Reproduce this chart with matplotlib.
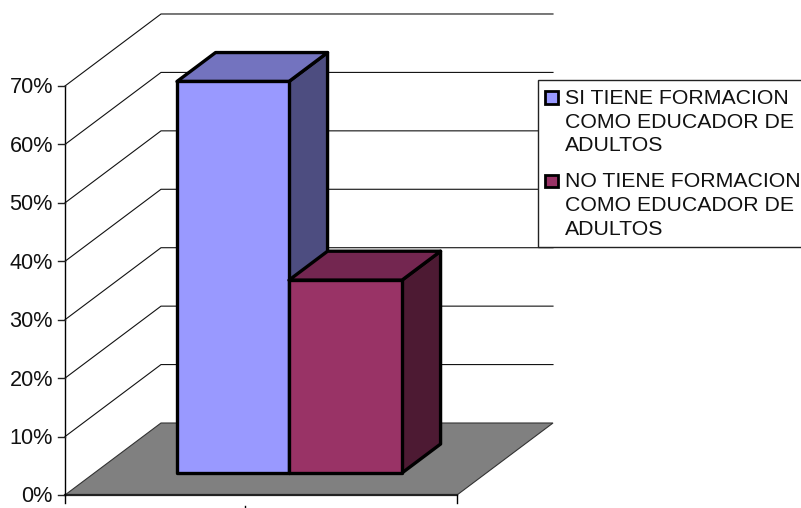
import matplotlib
matplotlib.use("Agg")
import matplotlib.pyplot as plt
from matplotlib.patches import Polygon, Rectangle

plt.rcParams['font.family'] = ['Liberation Sans', 'DejaVu Sans']

# Data
series_names = ["SI TIENE FORMACION\nCOMO EDUCADOR DE\nADULTOS",
                "NO TIENE FORMACION\nCOMO EDUCADOR DE\nADULTOS"]
series_values = [67, 33]
face_colors = ["#9999FF", "#993366"]
top_colors = ["#7373BF", "#732650"]
side_colors = ["#4D4D80", "#4D1A33"]
y_ticks = [0, 10, 20, 30, 40, 50, 60, 70]

# Projection (pixel layout of the pseudo-3D chart)
X0, Y0 = 65.0, 495.0
W = 392.0
PX_PER_PCT = 5.843
DX, DY = 96.0, 72.0

def proj(u, v, d):
    """u: 0-1 along category axis, v: percent, d: 0-1 depth."""
    return (X0 + W * u + DX * d, Y0 - PX_PER_PCT * v - DY * d)

fig = plt.figure(figsize=(8.01, 5.08), dpi=100)
ax = fig.add_axes([0, 0, 1, 1])
ax.set_xlim(0, 801)
ax.set_ylim(508, 0)
ax.axis('off')

# Floor
ax.add_patch(Polygon([proj(0, 0, 0), proj(1, 0, 0), proj(1, 0, 1), proj(0, 0, 1)],
                     closed=True, fc="#808080", ec="#333333", lw=0.8, zorder=1))
ax.plot(*zip(proj(0, 0, 0), proj(1, 0, 0)), color="#222222", lw=1.6, zorder=2)

# Gridlines on walls
for t in y_ticks:
    if t > 0:
        a, b, c = proj(0, t, 0), proj(0, t, 1), proj(1, t, 1)
        ax.plot([a[0], b[0], c[0]], [a[1], b[1], c[1]], color="#111111", lw=0.8,
                zorder=1, solid_joinstyle='miter')

# Axis lines, ticks
ax.plot(*zip(proj(0, 0, 0), proj(0, 70, 0)), color="black", lw=1.0, zorder=3)
for t in y_ticks:
    x, y = proj(0, t, 0)
    ax.plot([x - 7, x], [y, y], color="#222222", lw=1.0, zorder=3)
    ax.text(x - 12, y + 2, f"{t}%", ha='right', va='center', fontsize=15.6, color="#111111")
for u in (0, 1):
    x, y = proj(u, 0, 0)
    ax.plot([x, x], [y, y + 8], color="black", lw=1.0, zorder=3)
ax.plot([245, 245], [506, 508], color="black", lw=1.0, zorder=3)

# Bars
BAR_U = [0.2107, 0.4964, 0.7847]
D0, D1 = 0.306, 0.708
for i, v in enumerate(series_values):
    u0, u1 = BAR_U[i], BAR_U[i + 1]
    kw = dict(closed=True, ec="black", lw=2.4, joinstyle='round')
    ax.add_patch(Polygon([proj(u1, 0, D0), proj(u1, 0, D1), proj(u1, v, D1), proj(u1, v, D0)],
                         fc=side_colors[i], zorder=4 + i, **kw))
    ax.add_patch(Polygon([proj(u0, v, D0), proj(u1, v, D0), proj(u1, v, D1), proj(u0, v, D1)],
                         fc=top_colors[i], zorder=4 + i, **kw))
    ax.add_patch(Polygon([proj(u0, 0, D0), proj(u1, 0, D0), proj(u1, v, D0), proj(u0, v, D0)],
                         fc=face_colors[i], zorder=4 + i, **kw))

# Legend
ax.add_patch(Rectangle((537.5, 80), 270, 167, fc="white", ec="#222222", lw=1.0, zorder=10))
legend_y = [122, 205.5]
for name, c, y in zip(series_names, face_colors, legend_y):
    ax.add_patch(Rectangle((545, y - 31), 13, 12.5, fc=c, ec="black", lw=2.0, zorder=11))
    ax.text(565, y, name, ha='left', va='center', fontsize=15.3, color="#111111",
            linespacing=1.33, zorder=11)

fig.savefig("out.png", dpi=100)
